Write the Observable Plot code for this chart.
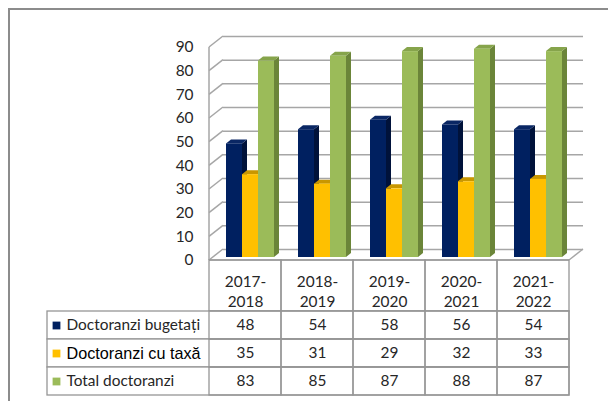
<!DOCTYPE html>
<html><head><meta charset="utf-8">
<script src="https://cdn.jsdelivr.net/npm/d3@7"></script>
<script src="https://cdn.jsdelivr.net/npm/@observablehq/plot@0.6"></script>
<style>
html,body{margin:0;padding:0;background:#fff;overflow:hidden;width:608px;height:401px;}
#frame{position:absolute;left:8px;top:8px;width:700px;height:500px;border-top:2px solid #8c8c8c;border-left:2px solid #8c8c8c;}
#wrap{position:absolute;left:0;top:0;width:608px;height:401px;}
#wrap svg{position:absolute;left:0;overflow:visible;}
</style></head><body>
<div id="frame"></div>
<div id="wrap"></div>
<script>
// ---- data ----
const years = ["2017-2018", "2018-2019", "2019-2020", "2020-2021", "2021-2022"];
const yearLabels = ["2017-\n2018", "2018-\n2019", "2019-\n2020", "2020-\n2021", "2021-\n2022"];
const seriesNames = ["Doctoranzi bugetați", "Doctoranzi cu taxă", "Total doctoranzi"];
const bugetati = [48, 54, 58, 56, 54];
const cuTaxa = [35, 31, 29, 32, 33];
const total = [83, 85, 87, 88, 87];
const yTicks = [0, 10, 20, 30, 40, 50, 60, 70, 80, 90];

// ---- styles ----
const seriesValues = [bugetati, cuTaxa, total];
const frontColors = ["#002060", "#FFC000", "#9BBB59"];
const sideColors = ["#00123a", "#b38700", "#6b8539"];
const topColors = ["#0a2764", "#c99700", "#86a44b"];
const gridColor = "#a6a6a6";
const lineColor = "#969696";
const FS = 15.4;
const BAR = 16, OFF = 12, DX = 5, DY = -3, DEPTH_X = 5, DEPTH_Y = 4;
const WALL_X = 14, WALL_Y = -11;

const rowsOf = (vals) => years.map((y, k) => ({year: y, value: vals[k]}));

// side and top faces of the 3D bars, through Plot's scales
function faces(si) {
  return (index, scales) => {
    const x = scales.x, y = scales.y;
    const g = d3.create("svg:g");
    seriesValues[si].forEach((v, k) => {
      const xl = x(years[k]) + OFF + BAR * si + DX;
      const xr = xl + BAR;
      const yt = y(v) + DY, yb = y(0) + DY;
      g.append("path")
        .attr("d", `M${xr},${yt}L${xr + DEPTH_X},${yt - DEPTH_Y}L${xr + DEPTH_X},${yb - DEPTH_Y}L${xr},${yb}Z`)
        .attr("fill", sideColors[si]);
      g.append("path")
        .attr("d", `M${xl},${yt}L${xl + DEPTH_X},${yt - DEPTH_Y}L${xr + DEPTH_X},${yt - DEPTH_Y}L${xr},${yt}Z`)
        .attr("fill", topColors[si]);
    });
    return g.node();
  };
}

// left wall and floor edges
function walls(index, scales, values, dims) {
  const y = scales.y;
  const xl = dims.marginLeft, xr = dims.width - dims.marginRight;
  const g = d3.create("svg:g").attr("stroke", gridColor).attr("stroke-width", 1.5).attr("fill", "none");
  g.append("line").attr("x1", xl).attr("x2", xl).attr("y1", y(0)).attr("y2", y(yTicks[yTicks.length - 1]));
  yTicks.forEach(t => {
    g.append("line").attr("x1", xl).attr("y1", y(t)).attr("x2", xl + WALL_X).attr("y2", y(t) + WALL_Y);
  });
  g.append("line").attr("x1", xr).attr("y1", y(0)).attr("x2", xr + WALL_X).attr("y2", y(0) + WALL_Y);
  g.append("line").attr("x1", xl).attr("y1", y(0)).attr("x2", xr).attr("y2", y(0));
  return g.node();
}

const baseStyle = {fontFamily: "Lato", fontSize: FS + "px", color: "#262626", background: "transparent", overflow: "visible"};

const barMarks = [];
seriesValues.forEach((vals, si) => {
  barMarks.push(faces(si));
  barMarks.push(Plot.barY(rowsOf(vals), {
    x: "year", y: "value", fill: frontColors[si],
    insetLeft: OFF + BAR * si, insetRight: 72 - OFF - BAR - BAR * si, dx: DX, dy: DY
  }));
});

const chart = Plot.plot({
  width: 608, height: 262,
  marginLeft: 209, marginRight: 39, marginTop: 47, marginBottom: 2,
  style: baseStyle,
  x: {domain: years, padding: 0, axis: null},
  y: {domain: [0, 90], ticks: yTicks, tickSize: 0, tickPadding: 16, label: null},
  marks: [
    Plot.ruleY(yTicks, {stroke: gridColor, strokeWidth: 1.5, dx: WALL_X, dy: WALL_Y}),
    walls,
    ...barMarks
  ]
});
chart.style.top = "0px";

const header = Plot.plot({
  width: 608, height: 51,
  marginLeft: 209, marginRight: 39, marginTop: 0, marginBottom: 0,
  style: baseStyle,
  x: {domain: years, padding: 0, axis: null},
  marks: [
    Plot.cell(years, {x: d => d, fill: "none", stroke: lineColor, strokeWidth: 1.3}),
    Plot.text(years, {x: d => d, text: (d, i) => yearLabels[i], lineHeight: 1.3, dy: 4.5, fontSize: FS})
  ]
});
header.style.top = "260px";

const cells = [];
seriesNames.forEach((s, si) => years.forEach((y, k) => cells.push({series: s, year: y, value: seriesValues[si][k]})));

const body = Plot.plot({
  width: 608, height: 86,
  marginLeft: 47, marginRight: 39, marginTop: 0, marginBottom: 2,
  style: baseStyle,
  x: {domain: years, range: [209, 569], padding: 0, axis: null},
  y: {domain: seriesNames, padding: 0, axis: null},
  marks: [
    Plot.cell(seriesNames, {y: d => d, fill: "white", stroke: lineColor, strokeWidth: 1.3}),
    Plot.cell(cells, {x: "year", y: "series", fill: "none", stroke: lineColor, strokeWidth: 1.3}),
    Plot.text(cells, {x: "year", y: "series", text: d => String(d.value), fontSize: FS}),
    Plot.dot(seriesNames, {y: d => d, frameAnchor: "left", dx: 9, symbol: "square", r: 4.4, fill: (d, i) => frontColors[i], stroke: null}),
    Plot.text(seriesNames.filter((d, i) => i !== 1), {y: d => d, text: d => d, frameAnchor: "left", dx: 19, textAnchor: "start", fontSize: FS}),
    Plot.text(seriesNames.filter((d, i) => i === 1), {y: d => d, text: d => d, frameAnchor: "left", dx: 19, textAnchor: "start", fontSize: 16.2, fontFamily: "Liberation Sans", fill: "#000"})
  ]
});
body.style.top = "311px";

const wrap = document.getElementById("wrap");
wrap.append(chart, header, body);
</script>
</body></html>
